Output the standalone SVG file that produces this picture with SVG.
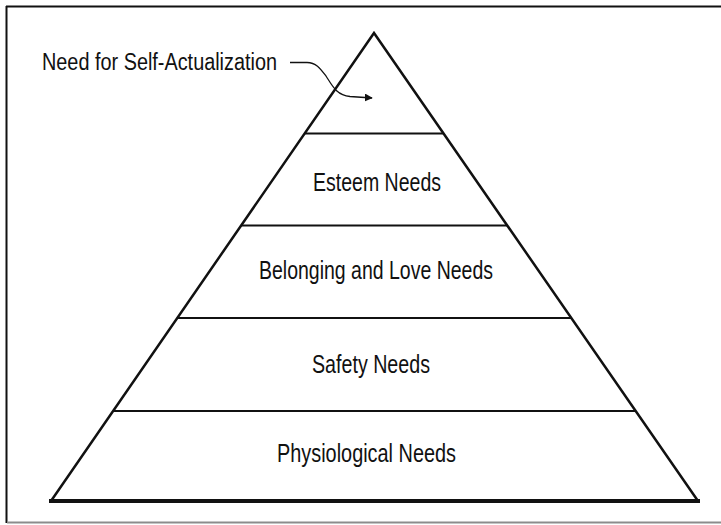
<svg xmlns="http://www.w3.org/2000/svg" width="721" height="525" viewBox="0 0 721 525">
<style>
.lbl{font-family:"Liberation Sans",Arial,sans-serif;font-size:25px;fill:#111;}
.top{font-size:23.5px;}
.div{stroke:#111;stroke-width:2;fill:none;}
.side{stroke:#111;stroke-width:2.5;fill:none;stroke-linejoin:miter;}
.conn{stroke:#111;stroke-width:1.3;fill:none;}
</style>
<defs>
<marker id="arr" viewBox="0 0 10 10" refX="9" refY="5" markerWidth="8" markerHeight="8" markerUnits="userSpaceOnUse" orient="auto">
<path d="M0,0 L10,5 L0,10 Z" fill="#111"/>
</marker>
</defs>
<rect width="721" height="525" fill="#fff"/>
<g id="frame">
<line x1="6" y1="6.5" x2="721" y2="6.5" stroke="#111" stroke-width="2"/>
<line x1="6.5" y1="6" x2="6.5" y2="523" stroke="#111" stroke-width="2"/>
<line x1="7" y1="522.5" x2="721" y2="522.5" stroke="#8c8c8c" stroke-width="2"/>
</g>
<g id="pyramid">
<polyline class="side" points="51,501 374,33 698,501"/>
<line x1="49" y1="501" x2="700" y2="501" stroke="#111" stroke-width="4"/>
</g>
<g id="self-actualization">
<line class="div" x1="304.7" y1="133.5" x2="443.5" y2="133.5"/>
<text class="lbl top" x="42" y="69.5" textLength="235" lengthAdjust="spacingAndGlyphs">Need for Self-Actualization</text>
</g>
<g id="esteem">
<line class="div" x1="241.2" y1="225.5" x2="507.2" y2="225.5"/>
<text class="lbl" x="313" y="191" textLength="128" lengthAdjust="spacingAndGlyphs">Esteem Needs</text>
</g>
<g id="belonging">
<line class="div" x1="177.3" y1="318" x2="571.2" y2="318"/>
<text class="lbl" x="259" y="279" textLength="234" lengthAdjust="spacingAndGlyphs">Belonging and Love Needs</text>
</g>
<g id="safety">
<line class="div" x1="113.1" y1="411" x2="635" y2="411"/>
<text class="lbl" x="312" y="373" textLength="118" lengthAdjust="spacingAndGlyphs">Safety Needs</text>
</g>
<g id="physiological">
<text class="lbl" x="277" y="462" textLength="179" lengthAdjust="spacingAndGlyphs">Physiological Needs</text>
</g>
<g id="connectors">
<path class="conn" d="M290,62.5 L307,62.5 C316,62.5 320,68 326,76 C332,85 336,95 350,96.5 L372,98" marker-end="url(#arr)"/>
</g>
</svg>
